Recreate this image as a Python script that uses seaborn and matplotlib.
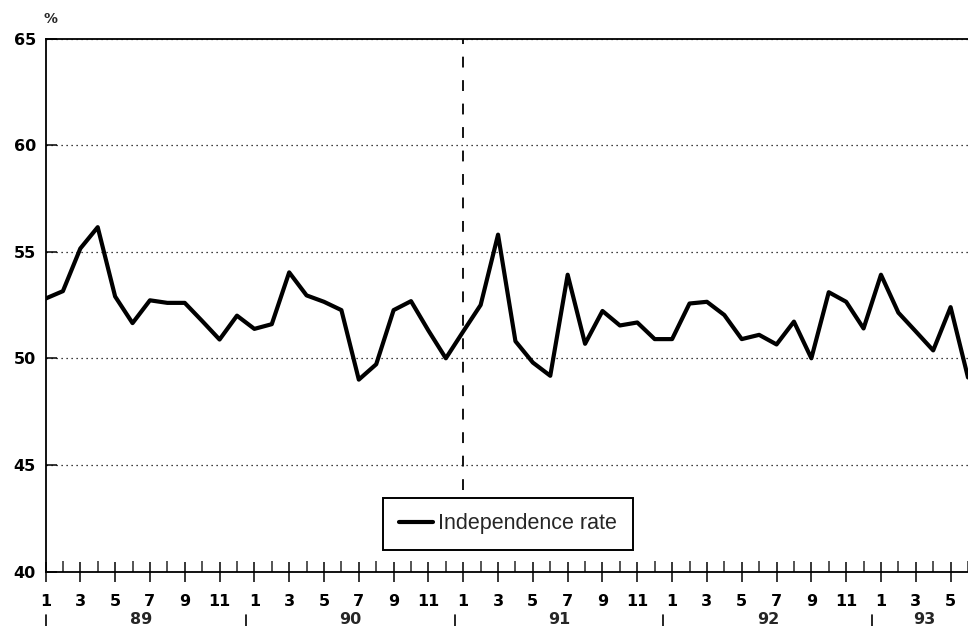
import numpy as np
import pandas as pd
import matplotlib
matplotlib.use("Agg")
import matplotlib.pyplot as plt
import seaborn as sns
from matplotlib.transforms import blended_transform_factory

# ---- data -------------------------------------------------------------
years = ["89", "90", "91", "92", "93"]
month_labels = ["1", "3", "5", "7", "9", "11"]
series_name = "Independence rate"
rate = [
    52.8, 53.15, 55.15, 56.15, 52.9, 51.65, 52.72, 52.6, 52.6, 51.75, 50.88, 52.0,   # 1989
    51.38, 51.6, 54.03, 52.95, 52.65, 52.26, 49.0, 49.72, 52.26, 52.68, 51.3, 50.0,  # 1990
    51.26, 52.5, 55.8, 50.8, 49.8, 49.18, 53.92, 50.68, 52.22, 51.54, 51.68, 50.9,   # 1991
    50.9, 52.57, 52.65, 52.03, 50.9, 51.1, 50.65, 51.72, 50.0, 53.1, 52.65, 51.4,    # 1992
    53.92, 52.14, 51.26, 50.37, 52.4, 49.1,                                          # 1993
]
yticks = [40, 45, 50, 55, 60, 65]
break_year = "91"   # dashed vertical marker at January of this year

# ---- style ------------------------------------------------------------
sns.set_style("ticks")
plt.rcParams["font.family"] = ["DejaVu Sans"]

W, H = 968, 626
fig = plt.figure(figsize=(W / 100, H / 100), dpi=100)
x0, y_bot, y_top = 45.5, 571.5, 38.5
month_px = 17.43
ax = fig.add_axes([x0 / W, 1 - y_bot / H, 1 - x0 / W, (y_bot - y_top) / H])

n = len(rate)
df = pd.DataFrame({"t": np.arange(n), "rate": rate})
sns.lineplot(data=df, x="t", y="rate", color="black", lw=3.0,
             label=series_name, ax=ax)

ax.set_xlim(0, (W - x0) / month_px)
ax.set_ylim(yticks[0], yticks[-1])
ax.set_xlabel("")
ax.set_ylabel("")

# ticks
ax.set_yticks(yticks)
ax.set_yticklabels([str(v) for v in yticks])
major = list(range(0, n, 2))
ax.set_xticks(major)
ax.set_xticklabels([month_labels[(i % 12) // 2] for i in major])
ax.set_xticks(list(range(1, n, 2)), minor=True)
ax.tick_params(axis="x", which="major", direction="inout", length=15,
               width=1.1, pad=8.5, labelsize=11.5, colors="black")
ax.tick_params(axis="x", which="minor", direction="in", length=8, width=1.1)
ax.tick_params(axis="y", which="major", direction="in", length=8,
               width=1.1, pad=7, labelsize=11.5, colors="black")
for lab in ax.get_xticklabels() + ax.get_yticklabels():
    lab.set_fontweight("bold")

# spines
for s in ["left", "bottom", "top"]:
    ax.spines[s].set_visible(True)
    ax.spines[s].set_color("black")
    ax.spines[s].set_linewidth(1.3)
ax.spines["right"].set_visible(False)

# dotted grid
ax.yaxis.grid(True, color="black", linestyle=(0, (1, 3)), linewidth=0.9)
ax.set_axisbelow(True)

# dashed vertical marker at January of break year
bx = years.index(break_year) * 12
ax.plot([bx, bx], [43.8, yticks[-1]], color="black", lw=1.3,
        linestyle=(0, (6, 7)), zorder=1)

# year labels and separators below axis
tr = blended_transform_factory(ax.transData, fig.transFigure)
for k, yr in enumerate(years):
    start = k * 12 - 0.5
    end = min(k * 12 + 11.5, n - 0.5)
    if start >= n:
        break
    mid = (start + end) / 2
    fig.text(mid, 1 - 624.5 / H, yr, transform=tr, ha="center",
             va="baseline", fontsize=11.5, fontweight="bold")
    sx = max(start, 0)
    fig.lines.append(plt.Line2D([sx, sx], [1 - 615 / H, 0.0], transform=tr,
                                color="black", lw=1.2))

# percent sign
fig.text(50 / W, 1 - 19 / H, "%", ha="center", va="center",
         fontsize=10, fontweight="bold")

# legend
leg = ax.legend(loc="upper left", bbox_to_anchor=(383 / W, 1 - 498 / H),
                bbox_transform=fig.transFigure, frameon=True, fancybox=False,
                edgecolor="black", framealpha=1, borderaxespad=0,
                borderpad=0.72, handlelength=1.6, handletextpad=0.25,
                prop={"family": "Liberation Sans", "size": 15.5})
leg.get_frame().set_linewidth(1.4)

fig.savefig("out.png", dpi=100)
